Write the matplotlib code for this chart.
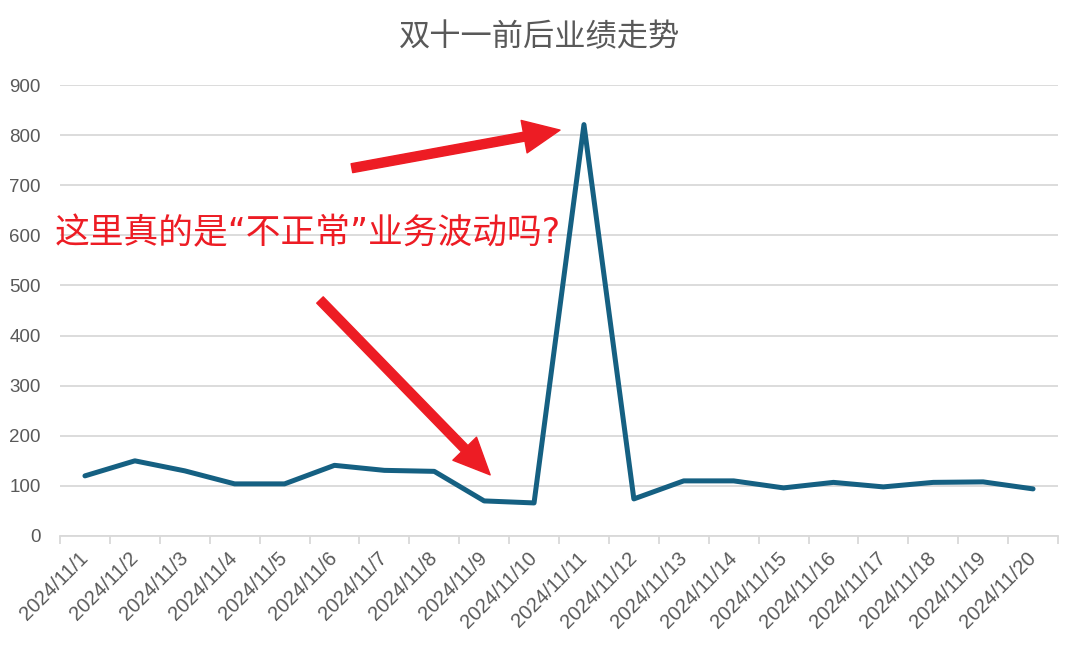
import matplotlib.pyplot as plt

dates = ['2024/11/%d' % d for d in range(1, 21)]
sales = [120, 150, 130, 104, 104, 141, 131, 129, 70, 66,
         821, 74, 110, 110, 96, 107, 98, 107, 108, 94]
title = '双十一前后业绩走势'
note = '这里真的是“不正常”业务波动吗?'

cjk = ['DejaVu Sans', 'Noto Sans CJK SC']
grey = '#595959'
red = '#ED1C24'

fig = plt.figure(figsize=(10.8, 6.46), dpi=100)
ax = fig.add_axes([60 / 1080, 1 - 536 / 646, 998 / 1080, 451 / 646])

x = list(range(len(dates)))
ax.plot(x, sales, color='#156082', lw=3.6, solid_joinstyle='round', solid_capstyle='round', zorder=3)

ax.set_xlim(-0.5, len(dates) - 0.5)
ax.set_ylim(0, 900)
ax.set_yticks(range(0, 901, 100))
ax.grid(axis='y', color='#d9d9d9', lw=1.3)
ax.set_axisbelow(True)

for s in ['top', 'right', 'left']:
    ax.spines[s].set_visible(False)
ax.spines['bottom'].set_color('#d9d9d9')
ax.spines['bottom'].set_linewidth(1.3)

# ticks between categories, labels on categories
ax.set_xticks([i - 0.5 for i in range(len(dates) + 1)])
ax.set_xticklabels([])
ax.set_xticks(x, minor=True)
ax.set_xticklabels(dates, minor=True, rotation=45, ha='right', va='center',
                   rotation_mode='anchor', fontsize=14.5, color=grey, family='Liberation Sans')
ax.tick_params(axis='x', which='major', length=6, color='#d9d9d9', width=1.3)
ax.tick_params(axis='x', which='minor', length=0, pad=14)
ax.tick_params(axis='y', length=0, pad=14, labelsize=13.5, labelcolor=grey)
for t in ax.get_yticklabels():
    t.set_family('Liberation Sans')

fig.text(0.5, 1 - 37 / 646, title, ha='center', va='center', fontsize=22.5,
         color=grey, family=cjk)

fig.text(55 / 1080, 1 - 233 / 646, note, ha='left', va='center', fontsize=25,
         color=red, family=cjk)

arrow = dict(arrowstyle='simple,head_length=1.05,head_width=0.95,tail_width=0.26',
             color=red, mutation_scale=25, shrinkA=0, shrinkB=0)
ax.annotate('', xy=(9.52, 810), xytext=(5.35, 734), arrowprops=arrow, zorder=5)
ax.annotate('', xy=(8.12, 122), xytext=(4.71, 471), arrowprops=arrow, zorder=5)

fig.savefig('out.png', dpi=100)
